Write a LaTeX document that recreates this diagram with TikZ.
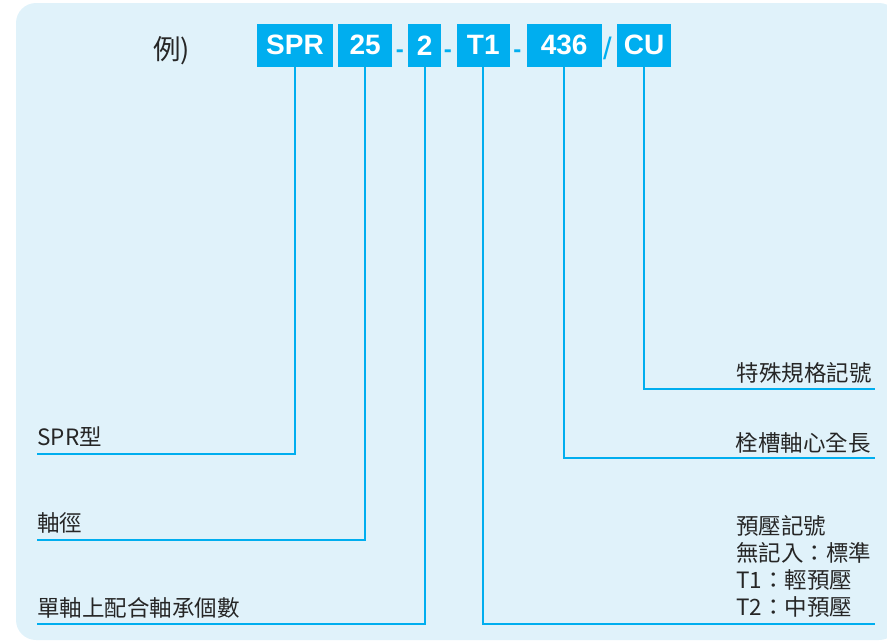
\documentclass[tikz,border=0pt]{standalone}
\usepackage{fontspec}
\setmainfont{Liberation Sans}
\newfontfamily\cjk{Noto Sans CJK TC}
\definecolor{mycyan}{RGB}{0,174,239}
\definecolor{bgblue}{RGB}{224,242,250}
\definecolor{inkgray}{RGB}{38,38,38}
\begin{document}
\begin{tikzpicture}[x=1pt,y=-1pt,
  codebox/.style={rectangle,fill=mycyan,text=white,inner sep=0pt,minimum height=42.7pt,
    font=\fontsize{28}{30}\selectfont\bfseries},
  sepmark/.style={inner sep=0pt,text=mycyan,anchor=base},
  conn/.style={draw=mycyan,line width=1.8pt},
  lab/.style={inner sep=0pt,text=inkgray,font=\cjk\fontsize{22.5}{27}\selectfont}]
\useasboundingbox (0,0) rectangle (887,641);
\fill[bgblue,rounded corners=20pt] (16,3) rectangle (899,640);

% example label
\node[lab,font=\cjk\fontsize{27.5}{30}\selectfont,anchor=base west] (ex) at (153,59) {例)};

% code boxes
\node[codebox,minimum width=75.4pt] (spr) at (295,45.3) {SPR};
\node[codebox,minimum width=53.7pt] (dia) at (365.2,45.3) {25};
\node[codebox,minimum width=32.7pt] (num) at (424.7,45.3) {2};
\node[codebox,minimum width=53.3pt] (pre) at (483.3,45.3) {T1};
\node[codebox,minimum width=75pt] (len) at (564.2,45.3) {436};
\node[codebox,minimum width=53.4pt] (cu) at (644,45.3) {CU};

% separators
\node[sepmark,font=\fontsize{24}{26}\selectfont\bfseries] (d1) at (399.8,57) {-};
\node[sepmark,font=\fontsize{24}{26}\selectfont\bfseries] (d2) at (447.8,57) {-};
\node[sepmark,font=\fontsize{24}{26}\selectfont\bfseries] (d3) at (517.4,57) {-};
\node[sepmark,font=\fontsize{31}{33}\selectfont] (sl) at (607.4,59.5) {/};

% labels
\node[lab,anchor=base west] (lspr) at (37.3,445) {SPR型};
\node[lab,anchor=base west] (ldia) at (37.3,531.5) {軸徑};
\node[lab,anchor=base west] (lnum) at (37.3,616.5) {單軸上配合軸承個數};
\node[lab,anchor=base east] (lcu) at (872,381) {特殊規格記號};
\node[lab,anchor=base east] (llen) at (871,451) {栓槽軸心全長};
\node[lab,anchor=base west] (lpre1) at (736,534.5) {預壓記號};
\node[lab,anchor=base west] (lpre2) at (736,561.5) {無記入：標準};
\node[lab,anchor=base west] (lpre3) at (736,588.5) {T1：輕預壓};
\node[lab,anchor=base west] (lpre4) at (736,615.5) {T2：中預壓};

% connector ends
\coordinate (espr) at (37.3,453.7);
\coordinate (edia) at (37.3,540);
\coordinate (enum) at (37.3,624);
\coordinate (epre) at (875,624);
\coordinate (elen) at (875,458.3);
\coordinate (ecu) at (875,389);

\draw[conn] (spr.south) |- (espr);
\draw[conn] (dia.south) |- (edia);
\draw[conn] (num.south) |- (enum);
\draw[conn] (pre.south) |- (epre);
\draw[conn] (len.south) |- (elen);
\draw[conn] (cu.south) |- (ecu);
\end{tikzpicture}
\end{document}
